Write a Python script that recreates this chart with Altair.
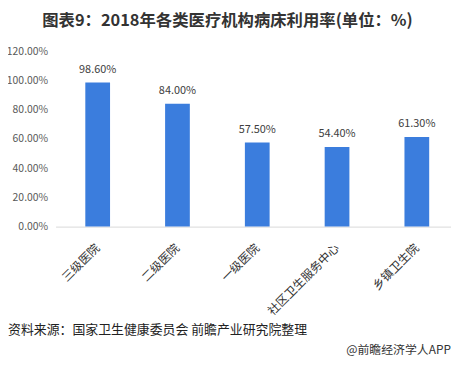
import altair as alt
import pandas as pd

categories = ["三级医院", "二级医院", "一级医院", "社区卫生服务中心", "乡镇卫生院"]
values = [0.986, 0.840, 0.575, 0.544, 0.613]
labels = ["98.60%", "84.00%", "57.50%", "54.40%", "61.30%"]

df = pd.DataFrame({"cat": categories, "val": values, "lab": labels})

FONT = "Noto Sans CJK SC"

xscale = alt.Scale(paddingInner=0.69, paddingOuter=0.323, align=0.577)
yscale = alt.Scale(domain=[0, 1.2])

x = alt.X("cat:N", sort=categories, title=None, scale=xscale,
          axis=alt.Axis(labelAngle=-45, labelAlign="right", labelBaseline="middle",
                        labelFontSize=12, labelColor="#333333", labelFont=FONT,
                        ticks=False, domainColor="#d9d9d9", labelPadding=19))
y = alt.Y("val:Q", title=None, scale=yscale,
          axis=alt.Axis(format=".2%", values=[0, 0.2, 0.4, 0.6, 0.8, 1.0, 1.2],
                        grid=False, domain=False, ticks=False, labelOverlap=False,
                        labelFontSize=10.5, labelColor="#595959", labelFont=FONT,
                        labelPadding=8))

base = alt.Chart(df).encode(x=x, y=y)
bars = base.mark_bar(color="#3B7DDD")
text = base.mark_text(dy=-13, fontSize=11, color="#404040", font=FONT).encode(text="lab:N")

source = alt.Chart(pd.DataFrame({"t": ["资料来源：国家卫生健康委员会 前瞻产业研究院整理"]})).mark_text(
    align="left", baseline="middle", fontSize=13, color="#222222", font=FONT
).encode(x=alt.value(-48), y=alt.value(281), text="t:N")

mark_wm = alt.Chart(pd.DataFrame({"t": ["@前瞻经济学人APP"]})).mark_text(
    align="right", baseline="middle", fontSize=12, color="#333333", font=FONT
).encode(x=alt.value(399), y=alt.value(302), text="t:N")

chart = alt.layer(bars, text, source, mark_wm).properties(
    width=399, height=177,
    title=alt.TitleParams("图表9：2018年各类医疗机构病床利用率(单位：%)",
                          fontSize=16.5, fontWeight="bold", color="#333333", font=FONT,
                          anchor="middle", frame="group", offset=17, dx=-26),
    autosize="none",
    padding={"left": 48, "top": 42, "right": 0, "bottom": 135},
).configure_view(stroke=None)

chart.save("out.html", embed_options={"renderer": "svg", "actions": False})
